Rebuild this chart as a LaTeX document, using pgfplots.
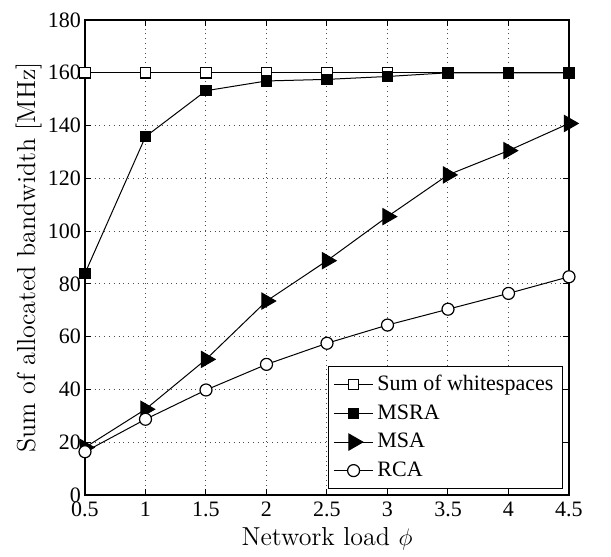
\documentclass[border=0pt]{standalone}
\usepackage{pgfplots}
\pgfplotsset{compat=1.18}
\usepackage{fontspec}
\newfontfamily\timesf{Liberation Serif}
\begin{document}
\begin{tikzpicture}
\begin{axis}[
  scale only axis,
  width=242pt, height=237.5pt,
  xmin=0.5, xmax=4.5, ymin=0, ymax=180,
  xtick={0.5,1,...,4.5},
  ytick={0,20,...,180},
  xticklabels={0.5,1,1.5,2,2.5,3,3.5,4,4.5},
  grid=major,
  major grid style={dotted, black!70, line width=0.5pt},
  tick align=inside,
  major tick length=3pt,
  axis line style={line width=0.6pt},
  tick style={black, line width=0.5pt},
  /pgf/number format/assume math mode=true,
  ticklabel style={font=\timesf\fontsize{11}{13}\selectfont},
  yticklabel style={xshift=1.5pt},
  xlabel={Network load $\phi$},
  ylabel={Sum of allocated bandwidth [MHz]},
  label style={font=\fontsize{13}{15}\selectfont},
  xlabel style={at={(axis description cs:0.5,-0.1053)}, anchor=base},
  ylabel style={at={(axis description cs:-0.1033,0.5)}, anchor=base, rotate=0},
  legend style={at={(1,0)}, anchor=south east, xshift=-3pt, yshift=3pt,
    font=\timesf\fontsize{11}{13}\selectfont, draw=black, line width=0.6pt,
    row sep=1.5pt, inner sep=2.5pt, cells={anchor=west}},
  legend image code/.code={
    \draw[mark repeat=2,mark phase=2] plot coordinates {(0cm,0cm)(0.34cm,0cm)(0.68cm,0cm)};},
  legend cell align=left,
]
\addplot[black, line width=0.5pt, mark=square*, mark options={fill=white, line width=0.6pt}, mark size=2.6pt]
  coordinates {(0.5,160)(1,160)(1.5,160)(2,160)(2.5,160)(3,160)(3.5,160)(4,160)(4.5,160)};
\addlegendentry{Sum of whitespaces}
\addplot[black, line width=0.5pt, mark=square*, mark options={fill=black}, mark size=2.6pt]
  coordinates {(0.5,84)(1,135.8)(1.5,153.2)(2,156.9)(2.5,157.5)(3,158.6)(3.5,160)(4,160)(4.5,160)};
\addlegendentry{MSRA}
\addplot[black, line width=0.5pt, mark=triangle*, mark options={fill=black, rotate=-90}, mark size=4.6pt]
  coordinates {(0.5,18)(1,32.5)(1.5,51.4)(2,73.5)(2.5,88.8)(3,105.5)(3.5,121.3)(4,130.5)(4.5,140.8)};
\addlegendentry{MSA}
\addplot[black, line width=0.5pt, mark=*, mark options={fill=white, line width=0.6pt}, mark size=3pt]
  coordinates {(0.5,16.4)(1,28.7)(1.5,39.8)(2,49.5)(2.5,57.5)(3,64.4)(3.5,70.4)(4,76.4)(4.5,82.7)};
\addlegendentry{RCA}
\end{axis}
\path (-42.5pt,-27.5pt) rectangle (263pt,247.5pt);
\end{tikzpicture}
\end{document}
